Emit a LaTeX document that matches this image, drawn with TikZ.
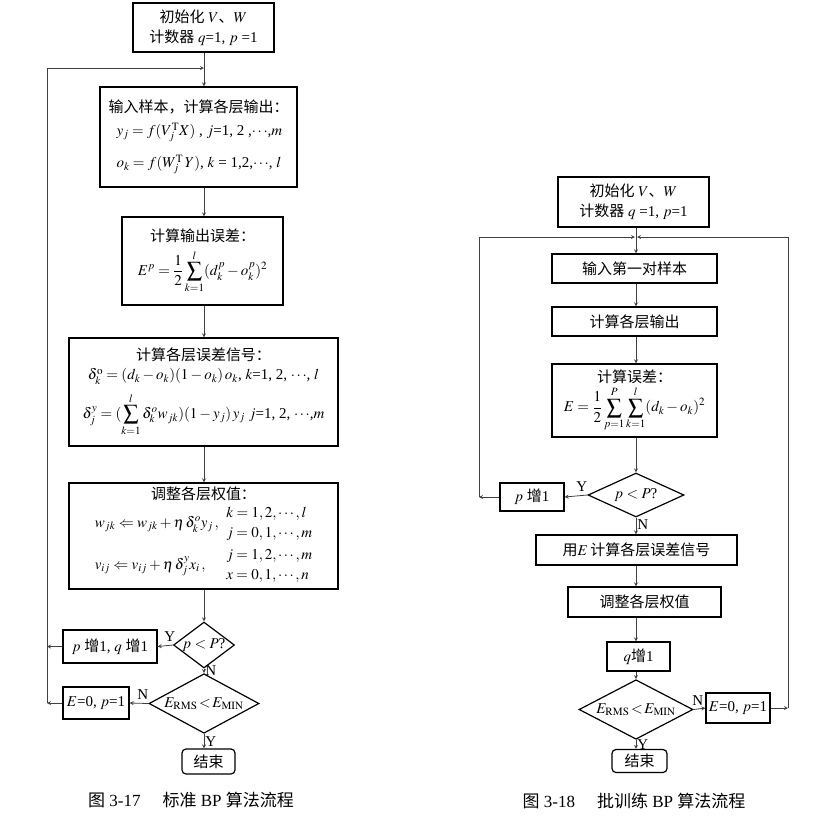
\documentclass[tikz,border=0pt]{standalone}
\usepackage{mathptmx}
\usepackage{fontspec}
\setmainfont{Liberation Serif}
\newfontfamily\zhfont{Noto Sans CJK SC}
\newcommand{\zh}[1]{{\zhfont #1}}
\usetikzlibrary{shapes.geometric}
\begin{document}
\begin{tikzpicture}[x=1pt, y=-1pt, >=stealth,
    every node/.style={font=\fontsize{15}{20}\selectfont},
    box/.style={draw, line width=1.2pt, align=center, inner sep=2pt},
    dec/.style={draw, diamond, line width=1.2pt, inner sep=-8pt},
    line/.style={->, draw=black!75, line width=0.8pt}]
    \useasboundingbox (0,0) rectangle (818,823);
    % standard BP
    \coordinate (colL) at (204,0);
    \node[box, minimum width=141, minimum height=49] (init) at (203.5,27.5)
      {\zh{初始化} $V$\zh{、}$W$\\ \zh{计数器} $q$=1, $p$ =1};
    \node[box, align=left, minimum width=197, minimum height=100] (in) at (198.5,137)
      {\zh{输入样本，计算各层输出：}\\[3pt]
       \hspace{8pt}$y_j=f(V_j^{\mathrm T}X)$ , $j$=1, 2 ,$\cdots$,$m$\\[12pt]
       \hspace{8pt}$o_k=f(W_j^{\mathrm T}\,Y)$, $k$ = 1,2,$\cdots$, $l$};
    \node[box, minimum width=161, minimum height=88] (err) at (202.5,261)
      {\zh{计算输出误差：}\\[6pt] $\displaystyle E^p=\frac{1}{2}\sum_{k=1}^{l}(d_k^p-o_k^p)^2$};
    \node[box, minimum width=269, minimum height=108] (sig) at (203.5,392)
      {\zh{计算各层误差信号：}\\[-1pt]
       $\delta_k^{\mathrm o}=(d_k-o_k)(1-o_k)\,o_k$, $k$=1, 2, $\cdots$, $l$\\[8pt]
       $\displaystyle\delta_j^y=(\sum_{k=1}^{l}\delta_k^o w_{jk})(1-y_j)\,y_j$ $j$=1, 2, $\cdots$,$m$};
    \node[box, minimum width=269, minimum height=106] (adj) at (203.5,536)
      {\zh{调整各层权值：}\\[2pt]
       $\begin{array}{@{}l@{\ \ }l@{}}
        w_{jk}\Leftarrow w_{jk}+\eta\,\delta_k^o y_j\,, &
          \begin{array}{@{}l@{}} k=1,2,\cdots,l\\ j=0,1,\cdots,m\end{array}\\[12pt]
        v_{ij}\Leftarrow v_{ij}+\eta\,\delta_j^y x_i\,, &
          \begin{array}{@{}l@{}} j=1,2,\cdots,m\\ x=0,1,\cdots,n\end{array}
       \end{array}$};
    \node[dec, minimum width=61, minimum height=46] (dec1) at (204,645) {$p<P$?};
    \node[box, minimum width=94, minimum height=33] (inc) at (110,646.5)
      {$p$ \zh{增}1, $q$ \zh{增}1};
    \node[dec, minimum width=110, minimum height=49] (dec2) at (204,703.5)
      {$E_{\mathrm{RMS}}\!<\!E_{\mathrm{MIN}}$};
    \node[box, minimum width=66, minimum height=32] (reset) at (96,703) {$E$=0, $p$=1};
    \node[box, rounded corners=4pt, minimum width=53, minimum height=25] (stop) at (208.5,761.5)
      {\zh{结束}};
    \node[font=\fontsize{17}{20}\selectfont] (cap1) at (191,800)
      {\zh{图} 3-17\hspace{1.3em}\zh{标准} BP \zh{算法流程}};
    \draw[line] (init.south -| colL) -- (in.north -| colL);
    \draw[line] (in.south -| colL) -- (err.north -| colL);
    \draw[line] (err.south -| colL) -- (sig.north -| colL);
    \draw[line] (sig.south -| colL) -- (adj.north -| colL);
    \draw[line] (adj.south -| colL) -- (dec1.north);
    \draw[line] (dec1.west) -- node[above, pos=0.2] {Y} (inc.east);
    \draw[line] (dec1.south) -- node[right, pos=0.45, inner sep=1pt] {N} (dec2.north);
    \draw[line] (dec2.west) -- node[above, pos=0.3] {N} (reset.east);
    \draw[line] (dec2.south) -- node[right, inner sep=1pt] {Y} (stop.north -| colL);
    \coordinate (loopL) at (47,68);
    \draw[line] (inc.west) -- (inc.west -| loopL);
    \draw[line] (reset.west) -- (reset.west -| loopL);
    \draw[line] (reset.west -| loopL) -- (loopL) -- (colL |- loopL);
    % batch BP
    \coordinate (colR) at (636,0);
    \node[box, minimum width=151, minimum height=50] (rinit) at (633.5,202)
      {\zh{初始化} $V$\zh{、}$W$\\ \zh{计数器} $q$ =1, $p$=1};
    \node[box, minimum width=165, minimum height=29] (rin) at (634.5,268.5) {\zh{输入第一对样本}};
    \node[box, minimum width=165, minimum height=29] (rout) at (634.5,321.5) {\zh{计算各层输出}};
    \node[box, minimum width=165, minimum height=73, inner sep=1pt] (rerr) at (634.5,400.5)
      {\zh{计算误差：}\\[2pt] $\displaystyle E=\frac{1}{2}\sum_{p=1}^{P}\sum_{k=1}^{l}(d_k-o_k)^2$};
    \node[dec, minimum width=96, minimum height=44] (rdec1) at (636,495) {$p<P$?};
    \node[box, minimum width=64, minimum height=28] (rinc) at (532,497) {$p$ \zh{增}1};
    \node[box, minimum width=201, minimum height=30] (rsig) at (636.5,550)
      {\zh{用}$E$\,\zh{计算各层误差信号}};
    \node[box, minimum width=153, minimum height=30] (radj) at (644.5,602) {\zh{调整各层权值}};
    \node[box, minimum width=63, minimum height=29] (rq) at (638.5,656.5) {$q$\zh{增}1};
    \node[dec, minimum width=114, minimum height=45] (rdec2) at (636,709.5)
      {$E_{\mathrm{RMS}}\!<\!E_{\mathrm{MIN}}$};
    \node[box, minimum width=64, minimum height=30] (rreset) at (738,708) {$E$=0, $p$=1};
    \node[box, rounded corners=4pt, minimum width=55, minimum height=23] (rstop) at (639.5,761)
      {\zh{结束}};
    \node[font=\fontsize{17}{20}\selectfont] (cap2) at (634,801)
      {\zh{图} 3-18\hspace{1.3em}\zh{批训练} BP \zh{算法流程}};
    \draw[line] (rinit.south -| colR) -- (rin.north -| colR);
    \draw[line] (rin.south -| colR) -- (rout.north -| colR);
    \draw[line] (rout.south -| colR) -- (rerr.north -| colR);
    \draw[line] (rerr.south -| colR) -- (rdec1.north);
    \draw[line] (rdec1.west) -- node[above, pos=0.25] {Y} (rinc.east);
    \draw[line] (rdec1.south) -- node[right, pos=0.4, inner sep=1pt] {N} (rsig.north -| colR);
    \draw[line] (rsig.south -| colR) -- (radj.north -| colR);
    \draw[line] (radj.south -| colR) -- (rq.north -| colR);
    \draw[line] (rq.south -| colR) -- (rdec2.north);
    \draw[line] (rdec2.east) -- node[above, pos=0.35] {N} (rreset.west);
    \draw[line] (rdec2.south) -- node[right, inner sep=1pt] {Y} (rstop.north -| colR);
    \coordinate (loopRL) at (479,237);
    \coordinate (loopRR) at (788,237);
    \draw[line] (rinc.west) -- (rinc.west -| loopRL);
    \draw[line] (rinc.west -| loopRL) -- (loopRL) -- ([xshift=-1pt]colR |- loopRL);
    \draw[line] (rreset.east) -- (rreset.east -| loopRR);
    \draw[line] (rreset.east -| loopRR) -- (loopRR) -- ([xshift=1pt]colR |- loopRR);
\end{tikzpicture}
\end{document}
